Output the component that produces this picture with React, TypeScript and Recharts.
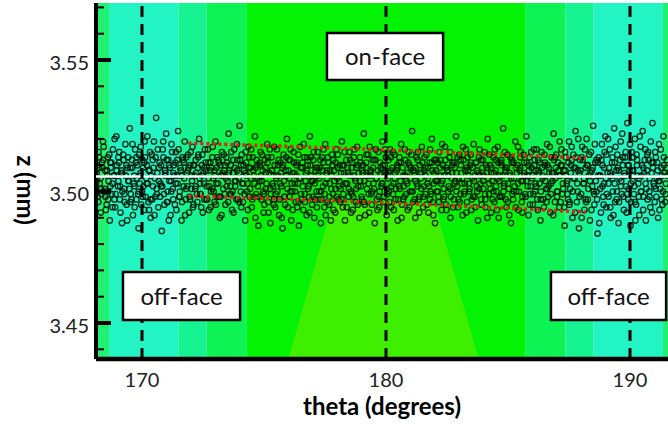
import React from 'react';
import {
  ComposedChart,
  XAxis,
  YAxis,
  Scatter,
  Line,
  Area,
  ReferenceArea,
  ReferenceLine,
} from 'recharts';

const FONT = "Lato, 'Open Sans', sans-serif";

// axis ranges and ticks
const thetaDomain = [168.115, 191.557];
const zDomain = [3.43631, 3.57167];
const thetaTicks = [170, 180, 190];
const zMajorTicks = [3.45, 3.5, 3.55];
const zAllTicks = [3.44, 3.45, 3.46, 3.47, 3.48, 3.49, 3.5, 3.51, 3.52, 3.53, 3.54, 3.55, 3.56, 3.57];

// background contour bands (theta ranges + level)
const bandFrom = [168.115, 168.65, 171.5, 172.65, 174.3, 185.7, 187.35, 188.5, 191.35];
const bandTo = [168.65, 171.5, 172.65, 174.3, 185.7, 187.35, 188.5, 191.35, 191.557];
const bandLevel = [1, 0, 2, 3, 4, 3, 2, 0, 1];
// lower central patch of the contour
const patchTheta = [176.0, 177.8, 182.0, 183.8];
const patchZ = [3.43631, 3.4948, 3.4948, 3.43631];

// face markers and mean line
const faceTheta = [170, 180, 190];
const meanZ = 3.5057;

// fitted envelope (red dotted)
const fitTheta = [171.9, 180, 188.2];
const fitUpperZ = [3.5184, 3.5158, 3.5127];
const fitLowerZ = [3.4983, 3.4957, 3.4922];

// measured points [theta, z], three passes
const passA: [number, number][] = [
  [168.14,3.507],[168.19,3.498],[168.22,3.515],[168.27,3.503],[168.31,3.492],[168.36,3.511],[168.40,3.519],[168.44,3.500],[168.49,3.508],[168.55,3.495],
  [168.60,3.513],[168.63,3.504],[168.68,3.489],[168.72,3.509],[168.77,3.499],[168.81,3.516],[168.86,3.506],[168.90,3.494],[168.95,3.521],[169.01,3.502],
  [169.05,3.511],[169.09,3.497],[169.14,3.507],[169.18,3.488],[169.23,3.514],[169.27,3.501],[169.32,3.518],[169.37,3.495],[169.41,3.509],[169.46,3.504],
  [169.50,3.524],[169.54,3.499],[169.59,3.512],[169.63,3.491],[169.68,3.506],[169.72,3.516],[169.77,3.497],[169.81,3.510],[169.86,3.486],[169.91,3.503],
  [169.95,3.517],[170.00,3.500],[170.04,3.509],[170.09,3.493],[170.13,3.513],[170.18,3.505],[170.22,3.521],[170.27,3.496],[170.31,3.508],[170.36,3.490],
  [170.40,3.514],[170.45,3.502],[170.49,3.519],[170.54,3.498],[170.58,3.528],[170.63,3.507],[170.67,3.494],[170.72,3.511],[170.76,3.503],[170.81,3.485],
  [170.85,3.516],[170.90,3.499],[170.94,3.508],[170.99,3.522],[171.03,3.496],[171.08,3.512],[171.12,3.504],[171.17,3.491],[171.21,3.518],[171.26,3.501],
  [171.30,3.510],[171.35,3.495],[171.39,3.515],[171.44,3.506],[171.48,3.523],[171.53,3.498],[171.57,3.509],[171.62,3.489],[171.66,3.513],[171.71,3.502],
  [171.75,3.519],[171.80,3.497],[171.84,3.507],[171.89,3.514],[171.93,3.492],[171.98,3.510],[172.02,3.501],[172.07,3.517],[172.11,3.495],[172.16,3.506],
  [172.20,3.512],[172.25,3.499],[172.29,3.509],[172.34,3.520],[172.38,3.503],[172.43,3.494],[172.47,3.514],[172.52,3.507],[172.56,3.497],[172.61,3.511],
  [172.65,3.502],[172.70,3.516],[172.74,3.493],[172.79,3.508],[172.83,3.500],[172.88,3.513],[172.92,3.505],[172.97,3.496],[173.01,3.519],[173.06,3.509],
  [173.10,3.498],[173.15,3.511],[173.19,3.490],[173.24,3.506],[173.28,3.515],[173.33,3.501],[173.37,3.508],[173.42,3.495],[173.46,3.513],[173.51,3.504],
  [173.55,3.522],[173.60,3.499],[173.64,3.510],[173.69,3.493],[173.73,3.507],[173.78,3.516],[173.82,3.502],[173.87,3.497],[173.91,3.512],[173.96,3.505],
  [174.00,3.525],[174.05,3.500],[174.09,3.514],[174.14,3.496],[174.18,3.508],[174.23,3.489],[174.27,3.511],[174.32,3.503],[174.36,3.517],[174.41,3.498],
  [174.45,3.509],[174.50,3.494],[174.54,3.513],[174.59,3.506],[174.63,3.521],[174.68,3.499],[174.72,3.510],[174.77,3.487],[174.81,3.504],[174.86,3.515],
  [174.90,3.497],[174.95,3.508],[174.99,3.492],[175.04,3.512],[175.08,3.501],[175.13,3.518],[175.17,3.496],[175.22,3.507],[175.26,3.488],[175.31,3.513],
  [175.35,3.503],[175.40,3.495],[175.44,3.510],[175.49,3.499],[175.53,3.516],[175.58,3.506],[175.62,3.491],[175.67,3.511],[175.71,3.502],[175.76,3.486],
  [175.80,3.514],[175.85,3.498],[175.89,3.508],[175.94,3.520],[175.98,3.494],[176.03,3.505],[176.07,3.512],[176.12,3.489],[176.16,3.500],[176.21,3.515],
  [176.25,3.507],[176.30,3.496],[176.34,3.511],[176.39,3.503],[176.43,3.487],[176.48,3.517],[176.52,3.499],[176.57,3.509],[176.61,3.493],[176.66,3.513],
  [176.70,3.504],[176.75,3.491],[176.79,3.510],[176.84,3.498],[176.88,3.521],[176.93,3.506],[176.97,3.495],[177.02,3.512],[177.06,3.490],[177.11,3.508],
  [177.15,3.500],[177.20,3.515],[177.24,3.497],[177.29,3.509],[177.33,3.488],[177.38,3.513],[177.42,3.502],[177.47,3.494],[177.51,3.518],[177.56,3.507],
  [177.60,3.496],[177.65,3.511],[177.69,3.503],[177.74,3.489],[177.78,3.514],[177.83,3.499],[177.87,3.508],[177.92,3.492],[177.96,3.516],[178.01,3.505],
  [178.05,3.497],[178.10,3.510],[178.14,3.501],[178.19,3.519],[178.23,3.494],[178.28,3.507],[178.32,3.489],[178.37,3.512],[178.41,3.503],[178.46,3.498],
  [178.50,3.515],[178.55,3.500],[178.59,3.509],[178.64,3.493],[178.68,3.513],[178.73,3.505],[178.77,3.496],[178.82,3.517],[178.86,3.502],[178.91,3.490],
  [178.95,3.511],[179.00,3.498],[179.04,3.507],[179.09,3.522],[179.13,3.495],[179.18,3.509],[179.22,3.501],[179.27,3.514],[179.31,3.492],[179.36,3.506],
  [179.40,3.499],[179.45,3.512],[179.49,3.503],[179.54,3.488],[179.58,3.516],[179.63,3.497],[179.67,3.508],[179.72,3.494],[179.76,3.511],[179.81,3.502],
  [179.85,3.519],[179.90,3.496],[179.94,3.507],[179.99,3.513],[180.03,3.491],[180.08,3.505],[180.12,3.500],[180.17,3.516],[180.21,3.494],[180.26,3.509],
  [180.30,3.503],[180.35,3.514],[180.39,3.497],[180.44,3.508],[180.48,3.489],[180.53,3.511],[180.57,3.501],[180.62,3.518],[180.66,3.495],[180.71,3.506],
  [180.75,3.498],[180.80,3.512],[180.84,3.504],[180.89,3.493],[180.93,3.515],[180.98,3.500],[181.02,3.509],[181.07,3.523],[181.11,3.496],[181.16,3.507],
  [181.20,3.490],[181.25,3.513],[181.29,3.502],[181.34,3.497],[181.38,3.510],[181.43,3.505],[181.47,3.517],[181.52,3.494],[181.56,3.508],[181.61,3.499],
  [181.65,3.514],[181.70,3.503],[181.74,3.492],[181.79,3.511],[181.83,3.500],[181.88,3.520],[181.92,3.496],[181.97,3.507],[182.01,3.488],[182.06,3.512],
  [182.10,3.504],[182.15,3.498],[182.19,3.515],[182.24,3.506],[182.28,3.493],[182.33,3.510],[182.37,3.501],[182.42,3.517],[182.46,3.495],[182.51,3.508],
  [182.55,3.500],[182.60,3.513],[182.64,3.490],[182.69,3.505],[182.73,3.511],[182.78,3.497],[182.82,3.509],[182.87,3.521],[182.91,3.502],[182.96,3.494],
  [183.00,3.514],[183.05,3.499],[183.09,3.507],[183.14,3.491],[183.18,3.512],[183.23,3.503],[183.27,3.516],[183.32,3.496],[183.36,3.508],[183.41,3.500],
  [183.45,3.510],[183.50,3.493],[183.54,3.505],[183.59,3.518],[183.63,3.498],[183.68,3.511],[183.72,3.502],[183.77,3.489],[183.81,3.513],[183.86,3.506],
  [183.90,3.497],[183.95,3.509],[183.99,3.501],[184.04,3.515],[184.08,3.494],[184.13,3.507],[184.17,3.520],[184.22,3.499],[184.26,3.510],[184.31,3.492],
  [184.35,3.504],[184.40,3.513],[184.44,3.496],[184.49,3.508],[184.53,3.500],[184.58,3.517],[184.62,3.490],[184.67,3.506],[184.71,3.511],[184.76,3.498],
  [184.80,3.524],[184.85,3.503],[184.89,3.509],[184.94,3.494],[184.98,3.514],[185.03,3.501],[185.07,3.507],[185.12,3.488],[185.16,3.512],[185.21,3.497],
  [185.25,3.505],[185.30,3.519],[185.34,3.500],[185.39,3.510],[185.43,3.493],[185.48,3.508],[185.52,3.515],[185.57,3.496],[185.61,3.504],[185.66,3.511],
  [185.70,3.499],[185.75,3.521],[185.79,3.506],[185.84,3.491],[185.88,3.513],[185.93,3.502],[185.97,3.509],[186.02,3.495],[186.06,3.516],[186.11,3.500],
  [186.15,3.508],[186.20,3.497],[186.24,3.512],[186.29,3.503],[186.33,3.489],[186.38,3.515],[186.42,3.506],[186.47,3.494],[186.51,3.510],[186.56,3.501],
  [186.60,3.518],[186.65,3.498],[186.69,3.507],[186.74,3.492],[186.78,3.513],[186.83,3.504],[186.87,3.522],[186.92,3.496],[186.96,3.509],[187.01,3.500],
  [187.05,3.511],[187.10,3.494],[187.14,3.506],[187.19,3.516],[187.23,3.499],[187.28,3.508],[187.32,3.487],[187.37,3.513],[187.41,3.503],[187.46,3.497],
  [187.50,3.519],[187.55,3.501],[187.59,3.510],[187.64,3.490],[187.68,3.514],[187.73,3.505],[187.77,3.523],[187.82,3.496],[187.86,3.508],[187.91,3.486],
  [187.95,3.512],[188.00,3.499],[188.04,3.517],[188.09,3.503],[188.13,3.493],[188.18,3.509],[188.22,3.520],[188.27,3.497],[188.31,3.506],[188.36,3.489],
  [188.40,3.515],[188.45,3.502],[188.49,3.525],[188.54,3.495],[188.58,3.511],[188.63,3.500],[188.67,3.484],[188.72,3.513],[188.76,3.506],[188.81,3.492],
  [188.85,3.518],[188.90,3.498],[188.94,3.509],[188.99,3.521],[189.03,3.494],[189.08,3.507],[189.12,3.503],[189.17,3.516],[189.21,3.490],[189.26,3.511],
  [189.30,3.500],[189.35,3.524],[189.39,3.496],[189.44,3.508],[189.48,3.514],[189.53,3.488],[189.57,3.505],[189.62,3.519],[189.66,3.499],[189.71,3.510],
  [189.75,3.493],[189.80,3.513],[189.84,3.502],[189.89,3.526],[189.93,3.497],[189.98,3.508],[190.02,3.487],[190.07,3.515],[190.11,3.504],[190.16,3.499],
  [190.20,3.520],[190.25,3.495],[190.29,3.510],[190.34,3.503],[190.38,3.491],[190.43,3.517],[190.47,3.506],[190.52,3.523],[190.56,3.498],[190.61,3.512],
  [190.65,3.489],[190.70,3.508],[190.74,3.515],[190.79,3.500],[190.83,3.494],[190.88,3.511],[190.92,3.526],[190.97,3.503],[191.01,3.496],[191.06,3.513],
  [191.10,3.505],[191.15,3.490],[191.19,3.518],[191.24,3.501],[191.28,3.509],[191.33,3.495],[191.37,3.521],[191.42,3.507],[191.46,3.499],[191.51,3.512],
];

const passB: [number, number][] = [
  [168.12,3.503],[168.17,3.510],[168.21,3.496],[168.25,3.513],[168.30,3.505],[168.34,3.499],[168.38,3.509],[168.43,3.517],[168.47,3.501],[168.52,3.493],
  [168.57,3.508],[168.61,3.497],[168.66,3.514],[168.70,3.502],[168.74,3.511],[168.79,3.494],[168.83,3.506],[168.88,3.520],[168.92,3.499],[168.97,3.510],
  [169.03,3.504],[169.07,3.515],[169.12,3.492],[169.16,3.508],[169.20,3.500],[169.25,3.512],[169.29,3.496],[169.34,3.506],[169.39,3.489],[169.43,3.513],
  [169.48,3.501],[169.52,3.509],[169.57,3.497],[169.61,3.518],[169.66,3.503],[169.70,3.494],[169.75,3.511],[169.79,3.505],[169.84,3.499],[169.88,3.514],
  [169.93,3.507],[169.97,3.495],[170.02,3.512],[170.06,3.502],[170.11,3.519],[170.15,3.498],[170.20,3.510],[170.24,3.503],[170.29,3.493],[170.33,3.515],
  [170.38,3.506],[170.42,3.497],[170.47,3.509],[170.51,3.491],[170.56,3.513],[170.60,3.501],[170.65,3.516],[170.69,3.504],[170.74,3.498],[170.78,3.510],
  [170.83,3.502],[170.87,3.519],[170.92,3.495],[170.96,3.507],[171.01,3.512],[171.05,3.500],[171.10,3.489],[171.14,3.509],[171.19,3.504],[171.23,3.515],
  [171.28,3.497],[171.32,3.506],[171.37,3.511],[171.41,3.493],[171.46,3.503],[171.50,3.516],[171.55,3.500],[171.59,3.508],[171.64,3.496],[171.68,3.512],
  [171.73,3.505],[171.77,3.491],[171.82,3.513],[171.86,3.502],[171.91,3.509],[171.95,3.498],[172.00,3.515],[172.04,3.506],[172.09,3.494],[172.13,3.510],
  [172.18,3.501],[172.22,3.507],[172.27,3.496],[172.31,3.514],[172.36,3.505],[172.40,3.499],[172.45,3.510],[172.49,3.492],[172.54,3.503],[172.58,3.516],
  [172.63,3.508],[172.67,3.497],[172.72,3.511],[172.76,3.502],[172.81,3.494],[172.85,3.509],[172.90,3.517],[172.94,3.500],[172.99,3.506],[173.03,3.495],
  [173.08,3.513],[173.12,3.503],[173.17,3.498],[173.21,3.510],[173.26,3.491],[173.30,3.507],[173.35,3.514],[173.39,3.499],[173.44,3.505],[173.48,3.511],
  [173.53,3.496],[173.57,3.508],[173.62,3.502],[173.66,3.515],[173.71,3.500],[173.75,3.492],[173.80,3.509],[173.84,3.504],[173.89,3.518],[173.93,3.497],
  [173.98,3.507],[174.02,3.512],[174.07,3.494],[174.11,3.503],[174.16,3.510],[174.20,3.499],[174.25,3.515],[174.29,3.506],[174.34,3.493],[174.38,3.509],
  [174.43,3.501],[174.47,3.516],[174.52,3.497],[174.56,3.508],[174.61,3.503],[174.65,3.490],[174.70,3.512],[174.74,3.505],[174.79,3.498],[174.83,3.510],
  [174.88,3.506],[174.92,3.514],[174.97,3.500],[175.01,3.495],[175.06,3.509],[175.10,3.503],[175.15,3.511],[175.19,3.492],[175.24,3.516],[175.28,3.499],
  [175.33,3.508],[175.37,3.502],[175.42,3.517],[175.46,3.494],[175.51,3.506],[175.55,3.500],[175.60,3.512],[175.64,3.497],[175.69,3.507],[175.73,3.490],
  [175.78,3.510],[175.82,3.504],[175.87,3.495],[175.91,3.513],[175.96,3.501],[176.00,3.508],[176.05,3.498],[176.09,3.516],[176.14,3.503],[176.18,3.493],
  [176.23,3.511],[176.27,3.500],[176.32,3.506],[176.36,3.494],[176.41,3.514],[176.45,3.505],[176.50,3.509],[176.54,3.497],[176.59,3.502],[176.63,3.518],
  [176.68,3.496],[176.72,3.507],[176.77,3.513],[176.81,3.501],[176.86,3.492],[176.90,3.510],[176.95,3.504],[176.99,3.498],[177.04,3.515],[177.08,3.503],
  [177.13,3.509],[177.17,3.494],[177.22,3.506],[177.26,3.500],[177.31,3.512],[177.35,3.497],[177.40,3.508],[177.44,3.516],[177.49,3.499],[177.53,3.491],
  [177.58,3.505],[177.62,3.513],[177.67,3.495],[177.71,3.508],[177.76,3.501],[177.80,3.510],[177.85,3.493],[177.89,3.504],[177.94,3.511],[177.98,3.498],
  [178.03,3.514],[178.07,3.502],[178.12,3.496],[178.16,3.507],[178.21,3.510],[178.25,3.499],[178.30,3.515],[178.34,3.503],[178.39,3.494],[178.43,3.509],
  [178.48,3.501],[178.52,3.506],[178.57,3.492],[178.61,3.511],[178.66,3.498],[178.70,3.516],[178.75,3.504],[178.79,3.509],[178.84,3.495],[178.88,3.507],
  [178.93,3.513],[178.97,3.502],[179.02,3.497],[179.06,3.510],[179.11,3.504],[179.15,3.491],[179.20,3.514],[179.24,3.506],[179.29,3.499],[179.33,3.517],
  [179.38,3.508],[179.42,3.495],[179.47,3.509],[179.51,3.501],[179.56,3.512],[179.60,3.505],[179.65,3.493],[179.69,3.515],[179.74,3.500],[179.78,3.507],
  [179.83,3.503],[179.87,3.510],[179.92,3.498],[179.96,3.516],[180.01,3.506],[180.05,3.499],[180.10,3.512],[180.14,3.496],[180.19,3.508],[180.23,3.502],
  [180.28,3.515],[180.32,3.493],[180.37,3.507],[180.41,3.501],[180.46,3.510],[180.50,3.497],[180.55,3.513],[180.59,3.504],[180.64,3.490],[180.68,3.509],
  [180.73,3.502],[180.77,3.516],[180.82,3.499],[180.86,3.507],[180.91,3.511],[180.95,3.494],[181.00,3.505],[181.04,3.514],[181.09,3.500],[181.13,3.508],
  [181.18,3.497],[181.22,3.509],[181.27,3.503],[181.31,3.515],[181.36,3.492],[181.40,3.507],[181.45,3.501],[181.49,3.511],[181.54,3.498],[181.58,3.513],
  [181.63,3.506],[181.67,3.495],[181.72,3.509],[181.76,3.502],[181.81,3.516],[181.85,3.499],[181.90,3.508],[181.94,3.491],[181.99,3.512],[182.03,3.504],
  [182.08,3.500],[182.12,3.511],[182.17,3.496],[182.21,3.509],[182.26,3.503],[182.30,3.518],[182.35,3.497],[182.39,3.506],[182.44,3.512],[182.48,3.493],
  [182.53,3.508],[182.57,3.502],[182.62,3.515],[182.66,3.498],[182.71,3.507],[182.75,3.494],[182.80,3.511],[182.84,3.504],[182.89,3.500],[182.93,3.513],
  [182.98,3.505],[183.02,3.496],[183.07,3.510],[183.11,3.503],[183.16,3.517],[183.20,3.499],[183.25,3.508],[183.29,3.492],[183.34,3.513],[183.38,3.506],
  [183.43,3.501],[183.47,3.514],[183.52,3.497],[183.56,3.509],[183.61,3.504],[183.65,3.494],[183.70,3.511],[183.74,3.500],[183.79,3.507],[183.83,3.516],
  [183.88,3.503],[183.92,3.495],[183.97,3.512],[184.01,3.506],[184.06,3.499],[184.10,3.510],[184.15,3.490],[184.19,3.505],[184.24,3.514],[184.28,3.501],
  [184.33,3.509],[184.37,3.497],[184.42,3.507],[184.46,3.516],[184.51,3.502],[184.55,3.493],[184.60,3.511],[184.64,3.504],[184.69,3.498],[184.73,3.512],
  [184.78,3.506],[184.82,3.500],[184.87,3.515],[184.91,3.497],[184.96,3.509],[185.00,3.503],[185.05,3.491],[185.09,3.513],[185.14,3.505],[185.18,3.499],
  [185.23,3.511],[185.27,3.502],[185.32,3.494],[185.36,3.507],[185.41,3.517],[185.45,3.500],[185.50,3.509],[185.54,3.504],[185.59,3.492],[185.63,3.514],
  [185.68,3.506],[185.72,3.498],[185.77,3.511],[185.81,3.502],[185.86,3.508],[185.90,3.495],[185.95,3.515],[185.99,3.505],[186.04,3.499],[186.08,3.510],
  [186.13,3.503],[186.17,3.516],[186.22,3.493],[186.26,3.507],[186.31,3.511],[186.35,3.500],[186.40,3.509],[186.44,3.497],[186.49,3.514],[186.53,3.504],
  [186.58,3.496],[186.62,3.510],[186.67,3.502],[186.71,3.517],[186.76,3.499],[186.80,3.507],[186.85,3.491],[186.89,3.512],[186.94,3.505],[186.98,3.514],
  [187.03,3.500],[187.07,3.508],[187.12,3.519],[187.16,3.496],[187.21,3.510],[187.25,3.503],[187.30,3.494],[187.34,3.515],[187.39,3.506],[187.43,3.499],
  [187.48,3.511],[187.52,3.495],[187.57,3.507],[187.61,3.517],[187.66,3.500],[187.70,3.509],[187.75,3.492],[187.79,3.513],[187.84,3.503],[187.88,3.520],
  [187.93,3.498],[187.97,3.508],[188.02,3.490],[188.06,3.512],[188.11,3.505],[188.15,3.516],[188.20,3.496],[188.24,3.510],[188.29,3.501],[188.33,3.514],
  [188.38,3.507],[188.42,3.493],[188.47,3.509],[188.51,3.500],[188.56,3.518],[188.60,3.504],[188.65,3.497],[188.69,3.511],[188.74,3.488],[188.78,3.506],
  [188.83,3.512],[188.87,3.502],[188.92,3.495],[188.96,3.515],[189.01,3.505],[189.05,3.499],[189.10,3.520],[189.14,3.509],[189.19,3.494],[189.23,3.506],
  [189.28,3.513],[189.32,3.491],[189.37,3.503],[189.41,3.517],[189.46,3.500],[189.50,3.509],[189.55,3.496],[189.59,3.512],[189.64,3.504],[189.68,3.522],
  [189.73,3.498],[189.77,3.507],[189.82,3.515],[189.86,3.492],[189.91,3.510],[189.95,3.501],[190.00,3.518],[190.04,3.496],[190.09,3.508],[190.13,3.513],
  [190.18,3.502],[190.22,3.489],[190.27,3.514],[190.31,3.506],[190.36,3.498],[190.40,3.521],[190.45,3.500],[190.49,3.510],[190.54,3.493],[190.58,3.507],
  [190.63,3.516],[190.67,3.501],[190.72,3.497],[190.76,3.512],[190.81,3.505],[190.85,3.519],[190.90,3.492],[190.94,3.509],[190.99,3.502],[191.03,3.515],
  [191.08,3.498],[191.12,3.511],[191.17,3.504],[191.21,3.493],[191.26,3.516],[191.30,3.506],[191.35,3.500],[191.39,3.513],[191.44,3.496],[191.49,3.509],
];

const passC: [number, number][] = [
  [168.16,3.505],[168.24,3.509],[168.33,3.501],[168.41,3.512],[168.50,3.498],[168.58,3.506],
  [168.62,3.500],[168.70,3.511],[168.79,3.503],[168.87,3.497],[168.96,3.508],[169.03,3.513],
  [169.10,3.502],[169.19,3.507],[169.28,3.499],[169.36,3.510],[169.44,3.504],[169.53,3.496],
  [169.60,3.509],[169.69,3.502],[169.78,3.513],[169.87,3.500],[169.94,3.506],[170.03,3.498],
  [170.10,3.511],[170.19,3.503],[170.28,3.508],[170.35,3.497],[170.44,3.512],[170.52,3.505],
  [170.61,3.499],[170.70,3.509],[170.79,3.502],[170.88,3.513],[170.95,3.506],[171.04,3.496],
  [171.11,3.510],[171.20,3.500],[171.29,3.507],[171.38,3.503],[171.45,3.512],[171.54,3.498],
  [171.63,3.506],[171.72,3.511],[171.81,3.501],[171.88,3.508],[171.97,3.497],[172.05,3.504],
  [172.12,3.510],[172.21,3.502],[172.30,3.513],[172.39,3.499],[172.46,3.506],[172.55,3.509],
  [172.64,3.497],[172.73,3.505],[172.80,3.511],[172.89,3.501],[172.98,3.508],[173.05,3.503],
  [173.14,3.512],[173.22,3.498],[173.31,3.506],[173.40,3.510],[173.47,3.502],[173.56,3.507],
  [173.65,3.499],[173.74,3.512],[173.81,3.504],[173.90,3.508],[173.99,3.496],[174.06,3.510],
  [174.15,3.503],[174.24,3.507],[174.31,3.500],[174.40,3.513],[174.48,3.505],[174.57,3.498],
  [174.66,3.509],[174.75,3.502],[174.82,3.511],[174.91,3.504],[175.00,3.499],[175.07,3.507],
  [175.16,3.513],[175.25,3.501],[175.32,3.508],[175.41,3.497],[175.50,3.505],[175.57,3.510],
  [175.66,3.503],[175.75,3.509],[175.83,3.498],[175.92,3.506],[176.01,3.512],[176.08,3.500],
  [176.17,3.507],[176.26,3.503],[176.33,3.510],[176.42,3.496],[176.51,3.505],[176.58,3.511],
  [176.67,3.499],[176.76,3.508],[176.83,3.502],[176.92,3.513],[177.01,3.504],[177.09,3.497],
  [177.18,3.509],[177.27,3.505],[177.34,3.500],[177.43,3.511],[177.52,3.503],[177.59,3.508],
  [177.68,3.498],[177.77,3.506],[177.84,3.512],[177.93,3.501],[178.02,3.509],[178.09,3.504],
  [178.18,3.497],[178.27,3.510],[178.35,3.503],[178.44,3.507],[178.53,3.512],[178.60,3.499],
  [178.69,3.506],[178.78,3.501],[178.85,3.510],[178.94,3.504],[179.03,3.508],[179.10,3.496],
  [179.19,3.511],[179.28,3.503],[179.35,3.507],[179.44,3.500],[179.53,3.512],[179.61,3.505],
  [179.70,3.498],[179.79,3.509],[179.86,3.503],[179.95,3.510],[180.04,3.501],[180.11,3.507],
  [180.20,3.513],[180.29,3.499],[180.36,3.505],[180.45,3.509],[180.54,3.502],[180.61,3.511],
  [180.70,3.497],[180.79,3.506],[180.87,3.503],[180.96,3.510],[181.05,3.500],[181.12,3.508],
  [181.21,3.504],[181.30,3.512],[181.37,3.498],[181.46,3.507],[181.55,3.502],[181.62,3.509],
  [181.71,3.505],[181.80,3.497],[181.88,3.511],[181.96,3.503],[182.05,3.508],[182.13,3.500],
  [182.22,3.512],[182.31,3.504],[182.38,3.498],[182.47,3.509],[182.56,3.506],[182.63,3.501],
  [182.72,3.510],[182.81,3.503],[182.88,3.507],[182.97,3.497],[183.06,3.512],[183.13,3.505],
  [183.22,3.500],[183.31,3.509],[183.39,3.503],[183.48,3.511],[183.57,3.498],[183.64,3.506],
  [183.73,3.508],[183.82,3.501],[183.89,3.512],[183.98,3.504],[184.07,3.497],[184.14,3.509],
  [184.23,3.503],[184.32,3.507],[184.40,3.500],[184.49,3.512],[184.58,3.505],[184.65,3.498],
  [184.74,3.510],[184.83,3.502],[184.90,3.508],[184.99,3.496],[185.08,3.506],[185.15,3.511],
  [185.24,3.500],[185.33,3.509],[185.41,3.503],[185.50,3.513],[185.59,3.498],[185.66,3.507],
  [185.75,3.504],[185.84,3.510],[185.91,3.499],[186.00,3.506],[186.09,3.512],[186.16,3.502],
  [186.25,3.508],[186.34,3.497],[186.42,3.505],[186.51,3.511],[186.60,3.501],[186.67,3.509],
  [186.76,3.503],[186.85,3.507],[186.92,3.513],[187.01,3.498],[187.10,3.506],[187.17,3.510],
  [187.26,3.501],[187.35,3.508],[187.43,3.504],[187.52,3.496],[187.61,3.512],[187.68,3.505],
  [187.77,3.509],[187.86,3.500],[187.93,3.507],[188.02,3.513],[188.11,3.503],[188.18,3.497],
  [188.27,3.510],[188.36,3.504],[188.44,3.508],[188.53,3.499],[188.62,3.512],[188.69,3.506],
  [188.78,3.501],[188.87,3.510],[188.94,3.503],[189.03,3.514],[189.12,3.498],[189.19,3.507],
  [189.28,3.505],[189.37,3.511],[189.45,3.497],[189.54,3.508],[189.63,3.502],[189.70,3.513],
  [189.79,3.506],[189.88,3.499],[189.95,3.510],[190.04,3.503],[190.13,3.508],[190.20,3.496],
  [190.29,3.512],[190.38,3.505],[190.46,3.500],[190.55,3.509],[190.64,3.503],[190.71,3.514],
  [190.80,3.498],[190.89,3.507],[190.96,3.511],[191.05,3.501],[191.14,3.508],[191.21,3.504],
  [191.30,3.497],[191.39,3.510],[191.47,3.503],[191.53,3.506],
];

const levelColors = ['#22f4c4', '#22f070', '#16f492', '#0ef354', '#04f204'];
const patchColor = '#3ef000';

const cloudData = [...passA, ...passB, ...passC].map(([theta, z]) => ({ theta, z }));
const fitUpper = fitTheta.map((theta, i) => ({ theta, z: fitUpperZ[i] }));
const fitLower = fitTheta.map((theta, i) => ({ theta, z: fitLowerZ[i] }));
const patchData = patchTheta.map((theta, i) => ({ theta, z: patchZ[i] }));

// y ticks: long for majors with label, short minors inward
const ZTick = (props: any) => {
  const { x, y, payload } = props;
  const major = zMajorTicks.some((m) => Math.abs(m - payload.value) < 1e-6);
  return (
    <g>
      <line x1={x} x2={x + (major ? 15 : 8)} y1={y} y2={y} stroke="#000" strokeWidth={major ? 4 : 2} />
      {major && (
        <text x={x - 7} y={y + 2} textAnchor="end" dominantBaseline="central" fontSize={20} fill="#222" fontFamily={FONT}>
          {payload.value.toFixed(2)}
        </text>
      )}
    </g>
  );
};

const PointMark = (props: any) => (
  <circle cx={props.cx} cy={props.cy} r={2.7} fill="none" stroke="#051807" strokeOpacity={0.9} strokeWidth={1.3} />
);

const boxLabel = (text: string) => ({
  value: text,
  position: 'center' as const,
  fontSize: 24,
  fill: '#111',
  fontFamily: FONT,
});

export default function App() {
  return (
    <div style={{ position: 'absolute', left: 0, top: 0, width: 668, height: 427, background: '#fff' }}>
      <ComposedChart width={668} height={427} margin={{ top: 3, right: 0, bottom: 0, left: 0 }}>
        <XAxis
          type="number"
          dataKey="theta"
          domain={thetaDomain}
          allowDataOverflow
          ticks={thetaTicks}
          tickLine={false}
          tickSize={0}
          tickMargin={14}
          height={68}
          axisLine={{ stroke: '#000', strokeWidth: 4.5 }}
          tick={{ fontSize: 20, fill: '#222', fontFamily: FONT }}
          label={{
            value: 'theta (degrees)',
            position: 'insideBottom',
            offset: 12,
            fontSize: 24,
            fontWeight: 'bold',
            fill: '#000',
            fontFamily: FONT,
          }}
        />
        <YAxis
          type="number"
          dataKey="z"
          domain={zDomain}
          allowDataOverflow
          ticks={zAllTicks}
          interval={0}
          width={96}
          tickLine={false}
          tickSize={0}
          tickMargin={0}
          axisLine={{ stroke: '#000', strokeWidth: 4 }}
          tick={<ZTick />}
          label={{
            content: () => (
              <text
                x={26}
                y={190}
                transform="rotate(90 26 190)"
                textAnchor="middle"
                dominantBaseline="central"
                fontSize={24}
                fontWeight="bold"
                fill="#000"
                fontFamily={FONT}
              >
                z (mm)
              </text>
            ),
          }}
        />

        {bandFrom.map((x1, i) => (
          <ReferenceArea
            key={'band' + i}
            x1={x1}
            x2={bandTo[i]}
            fill={levelColors[bandLevel[i]]}
            fillOpacity={1}
            stroke="none"
            zIndex={-200}
          />
        ))}
        <Area
          data={patchData}
          dataKey="z"
          type="linear"
          baseValue="dataMin"
          fill={patchColor}
          fillOpacity={1}
          stroke="none"
          isAnimationActive={false}
          zIndex={-150}
        />

        <Scatter data={cloudData} dataKey="z" shape={<PointMark />} isAnimationActive={false} zIndex={600} />

        <Line
          data={fitUpper}
          dataKey="z"
          type="monotone"
          dot={false}
          stroke="#dd2414"
          strokeWidth={3.5}
          strokeDasharray="3 3"
          isAnimationActive={false}
          zIndex={700}
        />
        <Line
          data={fitLower}
          dataKey="z"
          type="monotone"
          dot={false}
          stroke="#dd2414"
          strokeWidth={3.5}
          strokeDasharray="3 3"
          isAnimationActive={false}
          zIndex={700}
        />
        <ReferenceLine y={meanZ} stroke="#fff" strokeWidth={2.5} zIndex={710} />
        {faceTheta.map((t) => (
          <ReferenceLine key={'face' + t} x={t} stroke="#000" strokeWidth={3} strokeDasharray="11 7" zIndex={800} />
        ))}

        <ReferenceArea x1={177.58} x2={182.34} y1={3.5424} y2={3.5603} fill="#fff" fillOpacity={1} stroke="#000" strokeWidth={2.5} zIndex={900} label={boxLabel('on-face')} />
        <ReferenceArea x1={169.22} x2={174.02} y1={3.4511} y2={3.4694} fill="#fff" fillOpacity={1} stroke="#000" strokeWidth={2.5} zIndex={900} label={boxLabel('off-face')} />
        <ReferenceArea x1={186.76} x2={191.48} y1={3.4511} y2={3.4694} fill="#fff" fillOpacity={1} stroke="#000" strokeWidth={2.5} zIndex={900} label={boxLabel('off-face')} />
      </ComposedChart>
    </div>
  );
}
